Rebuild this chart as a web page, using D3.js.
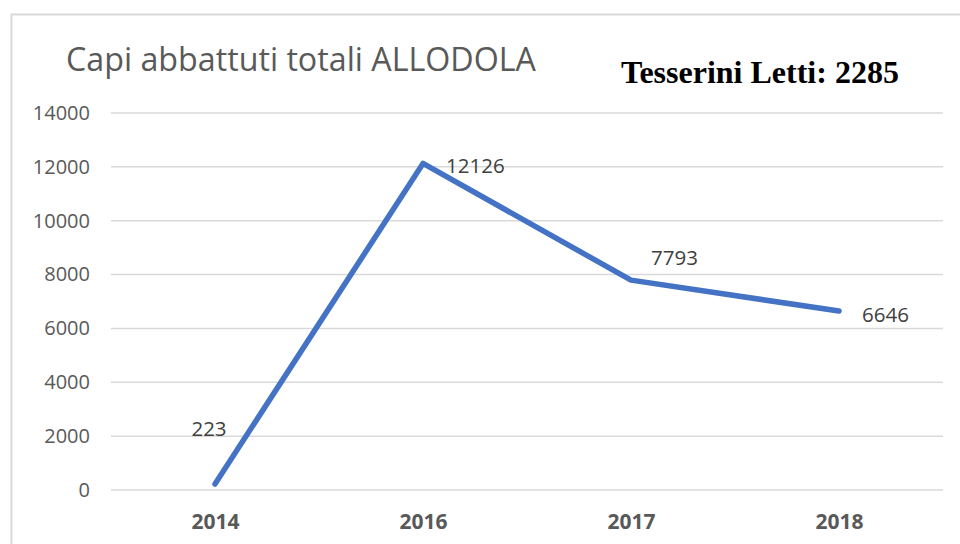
<!DOCTYPE html>
<html><head><meta charset="utf-8">
<script src="https://cdn.jsdelivr.net/npm/d3@7"></script>
<style>body{margin:0;background:#fff;}svg{display:block;}</style>
</head><body>
<svg id="c" width="960" height="544"></svg>
<script>
const categories = ["2014", "2016", "2017", "2018"];
const values = [223, 12126, 7793, 6646];
const yTicks = [0, 2000, 4000, 6000, 8000, 10000, 12000, 14000];
const title = "Capi abbattuti totali ALLODOLA";
const note = "Tesserini Letti: 2285";

const svg = d3.select("#c");
const font = "'Open Sans', Lato, sans-serif";

// outer frame
svg.append("rect").attr("x", 11.5).attr("y", 14.5).attr("width", 960).attr("height", 560)
  .attr("fill", "none").attr("stroke", "#d9d9d9").attr("stroke-width", 2);

const x = d3.scalePoint().domain(categories).range([111, 943]).padding(0.5);
const y = d3.scaleLinear().domain([0, 14000]).range([490, 113]);

// gridlines
svg.append("g").selectAll("line").data(yTicks).join("line")
  .attr("x1", 111).attr("x2", 943)
  .attr("y1", d => y(d)).attr("y2", d => y(d))
  .attr("stroke", "#d9d9d9").attr("stroke-width", 1.5);

// y axis
const ya = svg.append("g").attr("transform", "translate(111,0)")
  .call(d3.axisLeft(y).tickValues(yTicks).tickSize(0).tickPadding(21).tickFormat(d3.format("d")));
ya.select(".domain").remove();
ya.selectAll("text").attr("font-family", font).attr("font-size", 20).attr("fill", "#595959");

// x axis
const xa = svg.append("g").attr("transform", "translate(0,490)")
  .call(d3.axisBottom(x).tickSize(0).tickPadding(0));
xa.select(".domain").remove();
xa.selectAll("text").attr("dy", null).attr("y", 39)
  .attr("font-family", font).attr("font-size", 21).attr("font-weight", "bold").attr("fill", "#595959");

// line
const data = categories.map((c, i) => ({c, v: values[i]}));
svg.append("path").datum(data)
  .attr("d", d3.line().x(d => x(d.c)).y(d => y(d.v)))
  .attr("fill", "none").attr("stroke", "#4472C4").attr("stroke-width", 5.5)
  .attr("stroke-linejoin", "round").attr("stroke-linecap", "round");

// data labels
const offs = [[-6, -48], [23, 10], [20, -15], [23, 10.5]];
const anch = ["middle", "start", "start", "start"];
svg.append("g").selectAll("text").data(data).join("text")
  .attr("x", (d, i) => x(d.c) + offs[i][0])
  .attr("y", (d, i) => y(d.v) + offs[i][1])
  .attr("text-anchor", (d, i) => anch[i])
  .attr("font-family", font).attr("font-size", 20.5).attr("fill", "#404040")
  .text(d => d.v);

// title
svg.append("text").attr("x", 66).attr("y", 71)
  .attr("font-family", font).attr("font-size", 32).attr("fill", "#595959")
  .attr("textLength", 470).attr("lengthAdjust", "spacingAndGlyphs")
  .text(title);

svg.append("text").attr("x", 621).attr("y", 83)
  .attr("font-family", "'Liberation Serif', 'Times New Roman', serif").attr("font-size", 32)
  .attr("font-weight", "bold").attr("fill", "#000")
  .text(note);
</script>
</body></html>
